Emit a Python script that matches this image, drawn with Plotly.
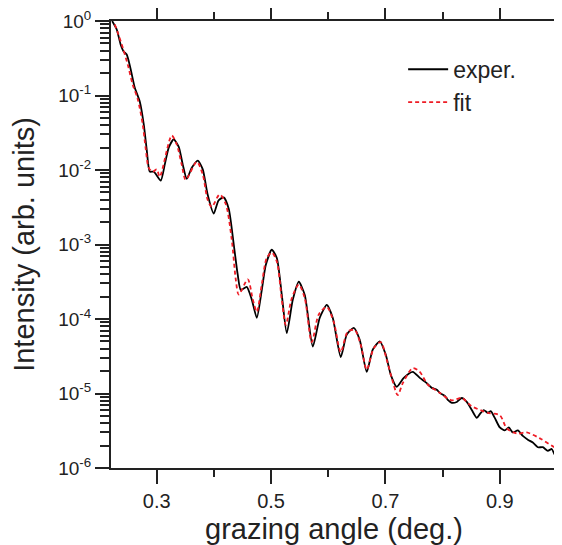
import plotly.graph_objects as go

# experimental curve (grazing angle in deg., intensity in arb. units)
exp_x = [0.222, 0.230, 0.237, 0.242, 0.2475, 0.2545, 0.2615, 0.2703, 0.2773, 0.2825,
         0.2878, 0.2948, 0.307, 0.314, 0.321, 0.3297, 0.3385, 0.3455, 0.3525, 0.3612,
         0.3717, 0.3805, 0.389, 0.3997, 0.408, 0.4172, 0.426, 0.4347, 0.4417, 0.447,
         0.4574, 0.4662, 0.475, 0.4837, 0.4907, 0.5012, 0.51, 0.5187, 0.5274, 0.538,
         0.5484, 0.5589, 0.5729, 0.5851, 0.5974, 0.6078, 0.6218, 0.6323, 0.6446, 0.655,
         0.6673, 0.6778, 0.6901, 0.7006, 0.7093, 0.7198, 0.732, 0.7478, 0.76, 0.7723,
         0.781, 0.7898, 0.795, 0.8038, 0.809, 0.816, 0.8248, 0.8335, 0.8422, 0.851,
         0.8597, 0.865, 0.872, 0.879, 0.8842, 0.8912, 0.9, 0.9087, 0.9157, 0.9227,
         0.9315, 0.9402, 0.949, 0.9577, 0.9664, 0.9752, 0.984, 0.9909, 0.9962, 1.0]
exp_y = [1.0, 0.77, 0.48, 0.39, 0.355, 0.224, 0.128, 0.083, 0.041, 0.0187,
         0.0095, 0.0095, 0.0072, 0.0118, 0.020, 0.0257, 0.0205, 0.0118, 0.0076, 0.0107,
         0.0134, 0.0102, 0.0047, 0.0026, 0.0039, 0.0043, 0.0030, 0.00100, 0.00039, 0.000245,
         0.00027, 0.000182, 0.000104, 0.000245, 0.00053, 0.00085, 0.00066, 0.00021, 0.0000646, 0.000182,
         0.000316, 0.00021, 0.0000426, 0.000104, 0.000155, 0.000104, 0.0000309, 0.0000617, 0.0000759, 0.0000525,
         0.0000195, 0.0000389, 0.0000501, 0.0000331, 0.0000178, 0.0000123, 0.0000162, 0.0000195, 0.0000162, 0.0000138,
         0.0000119, 0.0000112, 0.0000102, 0.0000093, 0.0000082, 0.0000075, 0.0000077, 0.0000087, 0.0000077, 0.0000060,
         0.0000047, 0.0000053, 0.0000060, 0.0000055, 0.0000058, 0.0000047, 0.0000035, 0.0000032, 0.0000035, 0.0000030,
         0.0000032, 0.0000027, 0.0000024, 0.0000022, 0.0000019, 0.0000019, 0.0000017, 0.0000018, 0.0000015, 0.0000017]

# fit curve
fit_x = [0.2265, 0.2318, 0.2405, 0.2493, 0.258, 0.2668, 0.2755, 0.2808, 0.286, 0.293,
         0.300, 0.3052, 0.3262, 0.335, 0.3437, 0.3507, 0.370, 0.3805, 0.389, 0.3962,
         0.410, 0.4207, 0.4312, 0.4382, 0.4434, 0.4592, 0.468, 0.475, 0.4837, 0.4924,
         0.5012, 0.510, 0.5187, 0.5257, 0.5362, 0.5484, 0.5589, 0.5711, 0.5834, 0.5974,
         0.6096, 0.6218, 0.6341, 0.6463, 0.6568, 0.6673, 0.6796, 0.6918, 0.7023, 0.711,
         0.7215, 0.7303, 0.7478, 0.760, 0.774, 0.795, 0.816, 0.8335, 0.850, 0.879,
         0.900, 0.9122, 0.9297, 0.947, 0.970, 0.9962, 1.0]
fit_y = [0.90, 0.70, 0.44, 0.26, 0.14, 0.089, 0.041, 0.019, 0.0107, 0.0095,
         0.0102, 0.0081, 0.029, 0.022, 0.0118, 0.0074, 0.0129, 0.0087, 0.0040, 0.0032,
         0.0047, 0.0035, 0.00116, 0.00034, 0.000213, 0.00034, 0.000182, 0.000125, 0.00029, 0.00066,
         0.00078, 0.00059, 0.000182, 0.0000832, 0.00019, 0.00029, 0.00019, 0.000049, 0.000115, 0.000145,
         0.000091, 0.000036, 0.000068, 0.000071, 0.0000447, 0.0000209, 0.0000407, 0.0000490, 0.0000282, 0.0000162,
         0.0000095, 0.0000138, 0.0000219, 0.0000195, 0.0000132, 0.0000102, 0.0000081, 0.0000087, 0.0000068, 0.0000055,
         0.0000051, 0.0000034, 0.0000029, 0.0000030, 0.0000025, 0.0000019, 0.0000019]

y_tickvals = [1e-6, 1e-5, 1e-4, 1e-3, 1e-2, 1e-1, 1]
y_ticktext = ["10<sup>-6</sup>", "10<sup>-5</sup>", "10<sup>-4</sup>", "10<sup>-3</sup>",
              "10<sup>-2</sup>", "10<sup>-1</sup>", "10<sup>0</sup>"]
x_tickvals = [0.3, 0.5, 0.7, 0.9]
x_ticktext = ["0.3", "0.5", "0.7", "0.9"]

FONT = "Liberation Sans, Arial, sans-serif"
AX = "#222222"
TXT = "#222222"

fig = go.Figure()
fig.add_trace(go.Scatter(x=exp_x, y=exp_y, mode="lines", name="exper.",
                         line=dict(color="black", width=1.8, shape="spline", smoothing=0.6)))
fig.add_trace(go.Scatter(x=fit_x, y=fit_y, mode="lines", name="fit",
                         line=dict(color="#ee1c25", width=1.8, dash="4px,3px",
                                   shape="spline", smoothing=0.8)))

# the page body has an 8px default margin, so the figure is sized/offset to compensate
fig.update_layout(
    width=554, height=537,
    margin=dict(l=103, r=5, t=13, b=77),
    paper_bgcolor="white", plot_bgcolor="white",
    font=dict(family=FONT, color=TXT),
    showlegend=True,
    legend=dict(x=0.655, y=0.94, xanchor="left", yanchor="top",
                bgcolor="rgba(0,0,0,0)", font=dict(size=23, family=FONT, color=TXT),
                tracegroupgap=0, itemwidth=40),
)
fig.update_xaxes(
    range=[0.22, 1.0], tickmode="array", tickvals=x_tickvals, ticktext=x_ticktext,
    automargin=False, ticklabeloverflow="allow",
    showgrid=False, zeroline=False,
    showline=True, linecolor=AX, linewidth=2, mirror="allticks",
    ticks="outside", ticklen=14, tickwidth=2, tickcolor=AX,
    tickfont=dict(size=20, family=FONT, color=TXT),
    minor=dict(ticks="outside", ticklen=7, tickwidth=2, tickcolor=AX,
               tickmode="linear", tick0=0.4, dtick=0.2, showgrid=False),
    title=dict(text="grazing angle (deg.)", font=dict(size=29, family=FONT, color=TXT)),
)
fig.update_yaxes(
    type="log", range=[-6, 0], tickmode="array", tickvals=y_tickvals, ticktext=y_ticktext,
    automargin=False, ticklabeloverflow="allow",
    showgrid=False, zeroline=False,
    showline=True, linecolor=AX, linewidth=2, mirror="allticks",
    ticks="outside", ticklen=14, tickwidth=2, tickcolor=AX,
    tickfont=dict(size=19, family=FONT, color=TXT),
    minor=dict(ticks="outside", ticklen=9, tickwidth=1.5, tickcolor=AX,
               dtick="D1", showgrid=False),
    title=dict(text="Intensity (arb. units)", font=dict(size=29, family=FONT, color=TXT)),
)

fig.write_html("out.html")
